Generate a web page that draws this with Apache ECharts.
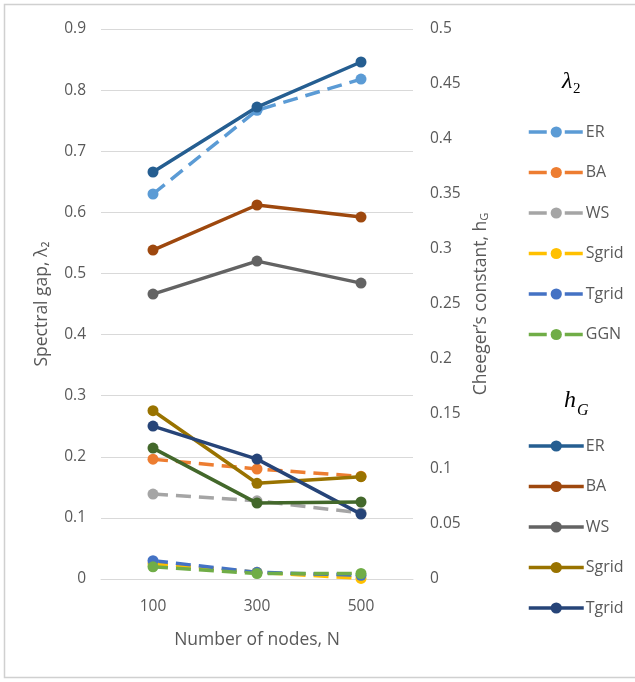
<!DOCTYPE html>
<html>
<head>
<meta charset="utf-8">
<script src="https://cdn.jsdelivr.net/npm/echarts@6/dist/echarts.min.js"></script>
<style>html,body{margin:0;padding:0;background:#fff}#c{width:635px;height:682px}</style>
</head>
<body>
<div id="c"></div>
<script>
// ---- data ----
const categories = ['100', '300', '500'];
const netNames = ['ER', 'BA', 'WS', 'Sgrid', 'Tgrid', 'GGN'];
// spectral gap λ2 (left axis, dashed)
const lam_ER = [0.630, 0.767, 0.818];
const lam_BA = [0.196, 0.180, 0.168];
const lam_WS = [0.139, 0.128, 0.108];
const lam_Sgrid = [0.025, 0.011, 0.001];
const lam_Tgrid = [0.030, 0.011, 0.006];
const lam_GGN = [0.020, 0.009, 0.009];
// Cheeger's constant hG (right axis, solid)
const hG_ER = [0.370, 0.429, 0.470];
const hG_BA = [0.299, 0.340, 0.329];
const hG_WS = [0.259, 0.289, 0.269];
const hG_Sgrid = [0.153, 0.087, 0.093];
const hG_Tgrid = [0.139, 0.109, 0.059];
const hG_GGN = [0.119, 0.069, 0.070];
const leftTicks = {min: 0, max: 0.9, interval: 0.1};
const rightTicks = {min: 0, max: 0.5, interval: 0.05};

const lamData = [lam_ER, lam_BA, lam_WS, lam_Sgrid, lam_Tgrid, lam_GGN];
const hGData = [hG_ER, hG_BA, hG_WS, hG_Sgrid, hG_Tgrid, hG_GGN];
const lamColors = ['#5B9BD5', '#ED7D31', '#A5A5A5', '#FFC000', '#4472C4', '#70AD47'];
const hGColors = ['#255E91', '#9E480E', '#636363', '#997300', '#264478', '#43682B'];

const FONT = '"Open Sans", sans-serif';
const TXT = '#595959';

const series = [];
netNames.forEach((n, i) => {
  series.push({
    name: 'lam ' + n, type: 'line', yAxisIndex: 0, data: lamData[i],
    symbol: 'circle', symbolSize: 11, color: lamColors[i],
    lineStyle: {width: 3.5, type: [15, 8], color: lamColors[i]},
    itemStyle: {color: lamColors[i]}, z: 2
  });
});
netNames.forEach((n, i) => {
  series.push({
    name: 'hG ' + n, type: 'line', yAxisIndex: 1, data: hGData[i],
    symbol: 'circle', symbolSize: 11, color: hGColors[i],
    lineStyle: {width: 3.5, color: hGColors[i]},
    itemStyle: {color: hGColors[i]}, z: 3
  });
});

const legendCommon = {
  orient: 'vertical', left: 522, itemWidth: 55, itemHeight: 14, itemGap: 24.5,
  selectedMode: false,
  formatter: name => name.split(' ')[1],
  textStyle: {color: TXT, fontFamily: FONT, fontSize: 16, lineHeight: 14, padding: [0, 0, 0, -3]}
};

const chart = echarts.init(document.getElementById('c'), null, {renderer: 'canvas'});
chart.setOption({
  animation: false,
  backgroundColor: '#fff',
  grid: {left: 101, right: 222, top: 29, bottom: 103},
  xAxis: {
    type: 'category', data: categories, boundaryGap: true,
    axisLine: {show: true, lineStyle: {color: '#d9d9d9', width: 1}},
    axisTick: {show: false},
    axisLabel: {color: TXT, fontFamily: FONT, fontSize: 15.5, margin: 20},
    name: 'Number of nodes, N', nameLocation: 'middle', nameGap: 52,
    nameTextStyle: {color: TXT, fontFamily: FONT, fontSize: 17.5}
  },
  yAxis: [{
    type: 'value', min: leftTicks.min, max: leftTicks.max, interval: leftTicks.interval,
    axisLine: {show: false}, axisTick: {show: false},
    splitLine: {lineStyle: {color: '#d9d9d9', width: 1}},
    axisLabel: {color: TXT, fontFamily: FONT, fontSize: 15.5, margin: 15},
    name: 'Spectral gap, λ₂', nameLocation: 'middle', nameGap: 50, nameRotate: 90,
    nameTextStyle: {color: TXT, fontFamily: FONT, fontSize: 17.5}
  }, {
    type: 'value', position: 'right', min: rightTicks.min, max: rightTicks.max, interval: rightTicks.interval,
    axisLine: {show: false}, axisTick: {show: false}, splitLine: {show: false},
    axisLabel: {color: TXT, fontFamily: FONT, fontSize: 15.5, margin: 17},
    name: 'Cheeger’s constant, h{s|G}', nameLocation: 'middle', nameGap: 59, nameRotate: 90,
    nameTextStyle: {color: TXT, fontFamily: FONT, fontSize: 17.5,
      rich: {s: {color: TXT, fontFamily: FONT, fontSize: 11, verticalAlign: 'bottom', padding: [6, 0, 0, 0]}}}
  }],
  legend: [
    Object.assign({}, legendCommon, {top: 119, data: netNames.map(n => 'lam ' + n),
      lineStyle: {width: 3.5, type: [18, 18]}}),
    Object.assign({}, legendCommon, {top: 433, data: netNames.slice(0, 5).map(n => 'hG ' + n),
      lineStyle: {width: 3.5}})
  ],
  series: series,
  graphic: [
    {type: 'rect', silent: true, z: -1, shape: {x: 4.5, y: 4.5, width: 700, height: 673},
     style: {fill: 'none', stroke: '#d0d0d0', lineWidth: 1.5}},
    {type: 'text', left: 562, top: 70, silent: true,
     style: {text: 'λ', font: 'italic 24px "Liberation Serif", serif', fill: '#000'}},
    {type: 'text', left: 573, top: 82, silent: true,
     style: {text: '2', font: '15px "Liberation Serif", serif', fill: '#000'}},
    {type: 'text', left: 564, top: 389, silent: true,
     style: {text: 'h', font: 'italic 24px "Liberation Serif", serif', fill: '#000'}},
    {type: 'text', left: 577, top: 403, silent: true,
     style: {text: 'G', font: 'italic 16px "Liberation Serif", serif', fill: '#000'}}
  ]
});
</script>
</body>
</html>
